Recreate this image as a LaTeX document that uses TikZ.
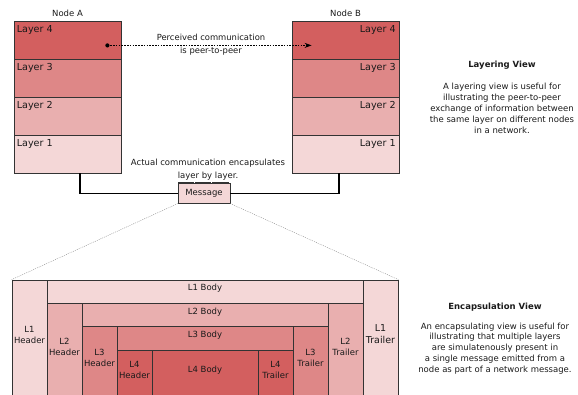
\documentclass[tikz,border=0pt]{standalone}
\usepackage{fontspec}
\setmainfont{DejaVu Sans}
\usetikzlibrary{fit,arrows.meta}

\definecolor{redA}{HTML}{D35F5F}
\definecolor{redB}{HTML}{DE8787}
\definecolor{redC}{HTML}{E9AFAF}
\definecolor{redD}{HTML}{F4D7D7}
\definecolor{edge}{HTML}{333333}
\definecolor{ink}{HTML}{1A1A1A}

\newcommand\smallfont{\fontsize{8.5}{11}\selectfont}
\newcommand\layerfont{\fontsize{9.6}{12}\selectfont}
\newcommand\trailerfont{\fontsize{9.5}{12}\selectfont}

\begin{document}
\begin{tikzpicture}[x=1pt,y=-1pt,
  every node/.style={text=ink},
  box/.style={draw=edge, line width=0.8pt, inner sep=0pt},
  encbox/.style={box, align=center, font=\smallfont},
  layerlabel/.style={font=\layerfont, inner sep=0pt},
  caption/.style={font=\smallfont, align=center, inner sep=0pt},
  link/.style={line width=1.2pt, black},
  peer/.style={line width=0.9pt, black, dash pattern=on 1.6pt off 1.2pt,
               -{Stealth[length=7pt,width=5pt]}},
  proj/.style={line width=0.35pt, gray, dash pattern=on 1pt off 1pt},
]
\useasboundingbox (0,0) rectangle (578,394);
\clip (0,0) rectangle (578,394);

% ---- Node A protocol stack
\node[box, fill=redA, fit={(14,21)(121,59)}]   (a4) {};
\node[box, fill=redB, fit={(14,59)(121,97)}]   (a3) {};
\node[box, fill=redC, fit={(14,97)(121,135)}]  (a2) {};
\node[box, fill=redD, fit={(14,135)(121,173)}] (a1) {};
\foreach \n/\t in {a4/Layer 4, a3/Layer 3, a2/Layer 2, a1/Layer 1}
  \node[layerlabel, anchor=base west] at ([shift={(3pt,-11.5pt)}]\n.north west) {\t};
\node[caption] (na) at ([yshift=7.7pt]a4.north) {Node A};

% ---- Node B protocol stack
\node[box, fill=redA, fit={(292,21)(399,59)}]   (b4) {};
\node[box, fill=redB, fit={(292,59)(399,97)}]   (b3) {};
\node[box, fill=redC, fit={(292,97)(399,135)}]  (b2) {};
\node[box, fill=redD, fit={(292,135)(399,173)}] (b1) {};
\foreach \n/\t in {b4/Layer 4, b3/Layer 3, b2/Layer 2, b1/Layer 1}
  \node[layerlabel, anchor=base east] at ([shift={(-3.5pt,-11.5pt)}]\n.north east) {\t};
\node[caption] (nb) at ([yshift=7.7pt]b4.north) {Node B};

% ---- perceived peer-to-peer communication
\coordinate (ps) at ([shift={(-14pt,14pt)}]a4.south east);
\coordinate (pe) at ([shift={(20pt,14pt)}]b4.south west);
\draw[peer] (ps) -- (pe);
\fill[black] (ps) circle[radius=2.1pt];
\node[caption, font=\fontsize{8.4}{13.3}\selectfont] (perc) at (211,44.6)
  {Perceived communication\\is peer-to-peer};

% ---- actual communication through the message
\node[caption, font=\fontsize{8.5}{13}\selectfont] (actual) at (208,169.5)
  {Actual communication encapsulates\\layer by layer.};
\node[box, fill=redD, line width=0.5pt, minimum width=52pt, minimum height=20pt,
      font=\smallfont] (msg) at (204,193.3) {Message};
\foreach \a/\b in {0.4/16, 17.6/32.8, 34.6/51.6} {
  \draw[line width=1.5pt, edge] ([xshift=\a pt]msg.north west) -- ([xshift=\b pt]msg.north west);
  \draw[line width=1.5pt, edge] ([xshift=\a pt]msg.south west) -- ([xshift=\b pt]msg.south west);
}
\coordinate (ta) at ([xshift=12.5pt]a1.south);
\coordinate (tb) at ([xshift=-6.5pt]b1.south);
\draw[link] (ta) |- (msg.west);
\draw[link] (msg.east) -| (tb);

% ---- encapsulation view of the message
\node[encbox, fill=redD, fit={(12,280)(47,396)}]      (l1h) {L1\\Header};
\node[encbox, fill=redD, fit={(47,280)(363,303.3)}]   (l1b) {L1 Body};
\node[encbox, fill=redD, fit={(363,280)(398,396)}, font=\trailerfont] (l1t) {L1\\Trailer};
\node[encbox, fill=redC, fit={(47,303.3)(82,396)}]    (l2h) {L2\\Header};
\node[encbox, fill=redC, fit={(82,303.3)(328,326.7)}] (l2b) {L2 Body};
\node[encbox, fill=redC, fit={(328,303.3)(363,396)}]  (l2t) {L2\\Trailer};
\node[encbox, fill=redB, fit={(82,326.7)(117,396)}]   (l3h) {L3\\Header};
\node[encbox, fill=redB, fit={(117,326.7)(293,350)}]  (l3b) {L3 Body};
\node[encbox, fill=redB, fit={(293,326.7)(328,396)}]  (l3t) {L3\\Trailer};
\node[encbox, fill=redA, fit={(117,350)(152,396)}]    (l4h) {L4\\Header};
\node[encbox, fill=redA, fit={(152,350)(258,396)}]    (l4b) {L4 Body};
\node[encbox, fill=redA, fit={(258,350)(293,396)}]    (l4t) {L4\\Trailer};

\draw[proj] (msg.south west) -- (l1h.north west);
\draw[proj] (msg.south east) -- (l1t.north east);

% ---- explanatory texts
\node[caption, font=\smallfont\bfseries] (lvt) at (502,65) {Layering View};
\node[caption] (lvd) at (502,108) {A layering view is useful for\\illustrating the peer-to-peer\\exchange of information between\\the same layer on different nodes\\in a network.};
\node[caption, font=\smallfont\bfseries] (evt) at (495,306.7) {Encapsulation View};
\node[caption, font=\fontsize{8.5}{10.8}\selectfont] (evd) at (495,348.3) {An encapsulating view is useful for\\illustrating that multiple layers\\are simulatenously present in\\a single message emitted from a\\node as part of a network message.};
\end{tikzpicture}
\end{document}
